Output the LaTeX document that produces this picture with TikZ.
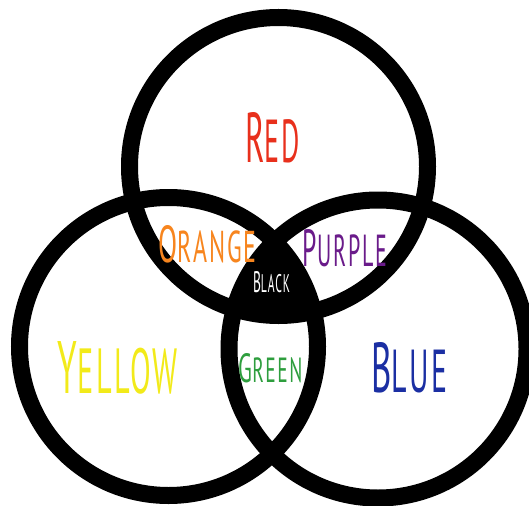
\documentclass[tikz,border=0pt]{standalone}
\usepackage{fontspec}
\usepackage{graphicx}
\setmainfont{PT Sans}[LetterSpace=8]
\definecolor{cred}{HTML}{E8301C}
\definecolor{corange}{HTML}{F7851E}
\definecolor{cpurple}{HTML}{6A1B8A}
\definecolor{cyellow}{HTML}{F2EA1A}
\definecolor{cgreen}{HTML}{2E9E3E}
\definecolor{cblue}{HTML}{1B2FA3}
\newcommand{\capword}[4]{\resizebox{#1pt}{#2pt}{{\fontsize{12}{12}\selectfont #3}{\fontsize{10.3}{10.3}\selectfont #4}}}
\tikzset{
  ring/.style={draw=black, line width=17pt},
  word/.style={inner sep=0pt, anchor=center}
}
\begin{document}
\begin{tikzpicture}[x=1pt,y=-1pt]
\useasboundingbox (0,0) rectangle (529,505);
\clip (0,0) rectangle (529,505);
\coordinate (T) at (278.5,166.5);
\coordinate (L) at (168.5,346.5);
\coordinate (R) at (378,349);
\begin{scope}
  \clip (T) circle (149pt);
  \clip (L) circle (149pt);
  \fill[black] (R) circle (149pt);
\end{scope}
\draw[ring] (T) circle (149pt);
\draw[ring] (L) circle (149pt);
\draw[ring] (R) circle (149pt);
\node[word, text=cred] (red) at (272.5,138) {\capword{55}{50}{R}{ED}};
\node[word, text=corange] (orange) at (207.5,244) {\capword{98}{37}{O}{RANGE}};
\node[word, text=cpurple] (purple) at (345,248) {\capword{84}{37}{P}{URPLE}};
\node[word, text=white] (blk) at (271.5,282.5) {\capword{37}{21}{B}{LACK}};
\node[word, text=cyellow] (yellow) at (118,368) {\capword{120}{52}{Y}{ELLOW}};
\node[word, text=cgreen] (green) at (270.5,368.5) {\capword{64}{29}{G}{REEN}};
\node[word, text=cblue] (blue) at (409.5,368) {\capword{76}{50}{B}{LUE}};
\end{tikzpicture}
\end{document}
